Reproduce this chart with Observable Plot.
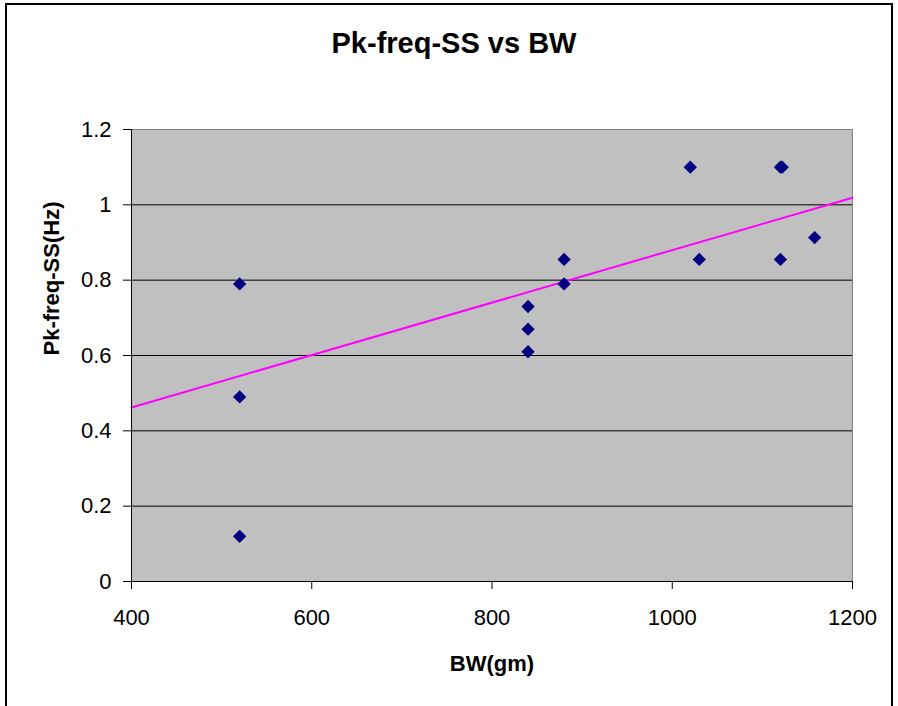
<!DOCTYPE html>
<html><head><meta charset="utf-8">
<script src="https://cdn.jsdelivr.net/npm/d3@7"></script>
<script src="https://cdn.jsdelivr.net/npm/@observablehq/plot@0.6"></script>
<style>
html,body{margin:0;padding:0;background:#fff;}
#wrap{position:relative;width:898px;height:706px;overflow:hidden;font-family:"Liberation Sans",Arial,sans-serif;background:#fff;}
#frame{position:absolute;left:5px;top:3px;width:888px;height:760px;border:2px solid #000;box-sizing:border-box;pointer-events:none;}
#title{position:absolute;left:0;top:29px;width:908px;text-align:center;font-weight:bold;font-size:29px;line-height:28px;color:#000;}
#chart{position:absolute;left:0;top:0;}
</style>
</head><body>
<div id="wrap">
  <div id="chart"></div>
  <div id="frame"></div>
  <div id="title">Pk-freq-SS vs BW</div>
</div>
<script>
// Data
const bw = [520, 520, 520, 840, 840, 840, 880, 880, 1020, 1030, 1120, 1122, 1120, 1158];
const pkFreq = [0.79, 0.49, 0.12, 0.73, 0.67, 0.61, 0.855, 0.79, 1.1, 0.855, 1.1, 1.1, 0.855, 0.913];
// Linear trendline as drawn in the reference (endpoints at the axis limits)
const trendBW = [400, 1200];
const trendPk = [0.462, 1.019];
const xTicks = [400, 600, 800, 1000, 1200];
const yTicks = [0, 0.2, 0.4, 0.6, 0.8, 1, 1.2];
const yTickLabels = ["0", "0.2", "0.4", "0.6", "0.8", "1", "1.2"];
const xLabel = "BW(gm)";
const yLabel = "Pk-freq-SS(Hz)";

const points = bw.map((x, i) => ({bw: x, pk: pkFreq[i]}));
const trend = trendBW.map((x, i) => ({bw: x, pk: trendPk[i]}));
const gridY = yTicks.filter(d => d > 0 && d < 1.2);

const chart = Plot.plot({
  width: 898,
  height: 706,
  marginLeft: 131,
  marginRight: 46,
  marginTop: 129,
  marginBottom: 125,
  x: {domain: [400, 1200]},
  y: {domain: [0, 1.2]},
  style: {fontFamily: '"Liberation Sans", Arial, sans-serif', fontSize: "22px", color: "#000", background: "transparent", overflow: "visible"},
  marks: [
    Plot.frame({fill: "#c0c0c0", stroke: "#808080"}),
    Plot.ruleY(gridY, {stroke: "#000", strokeWidth: 1}),
    Plot.line(trend, {x: "bw", y: "pk", stroke: "#ff00ff", strokeWidth: 2}),
    Plot.dot(points, {x: "bw", y: "pk", symbol: "diamond2", r: 6, fill: "#000080", stroke: "none"}),
    Plot.ruleX([400], {stroke: "#000", strokeWidth: 1}),
    Plot.ruleY([0], {stroke: "#000", strokeWidth: 1}),
    Plot.axisX({ticks: xTicks, tickSize: 8, tickPadding: 20, tickFormat: d => String(d), label: null, stroke: "#000"}),
    Plot.axisY({ticks: yTicks, tickSize: 8, tickPadding: 12, tickFormat: d => yTickLabels[yTicks.indexOf(d)], label: null, stroke: "#000"}),
    Plot.text([xLabel], {frameAnchor: "bottom", dy: 82, lineAnchor: "middle", fontWeight: "bold", fontSize: 22, fill: "#000"}),
    Plot.text([yLabel], {frameAnchor: "left", dx: -80, rotate: -90, lineAnchor: "middle", fontWeight: "bold", fontSize: 22, fill: "#000"})
  ]
});
document.getElementById("chart").appendChild(chart);
</script>
</body></html>
